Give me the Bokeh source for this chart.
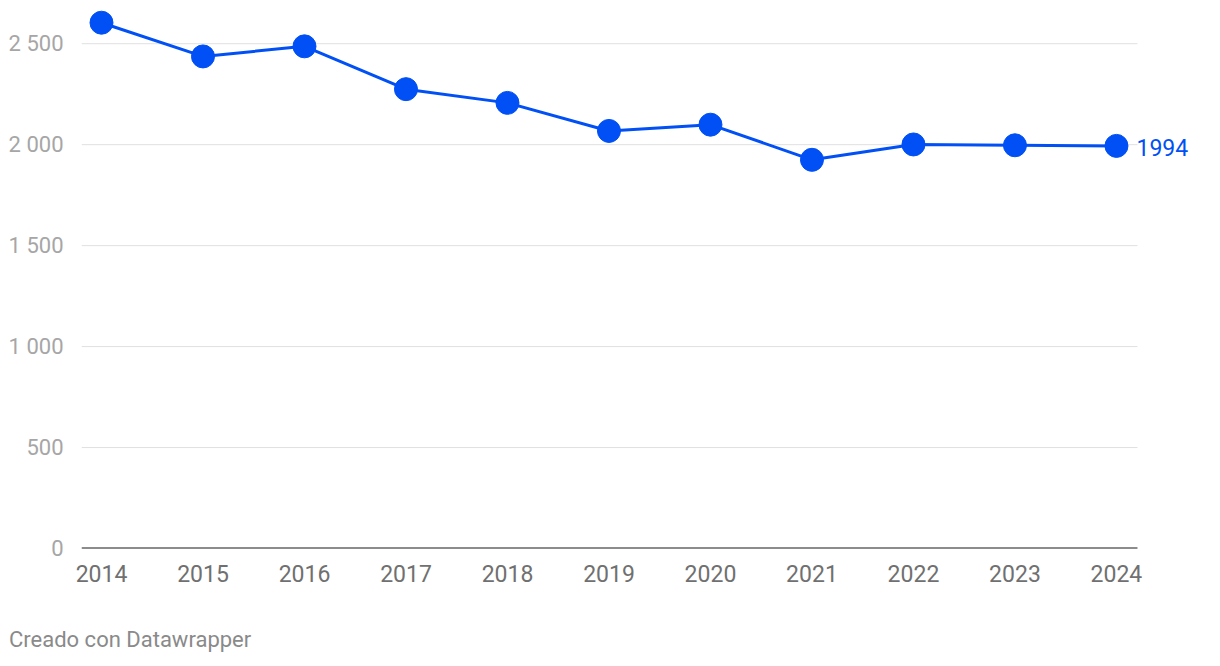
from bokeh.plotting import figure
from bokeh.models import Range1d, FixedTicker, ColumnDataSource, Div
from bokeh.layouts import column
from bokeh.core.properties import value
from bokeh.embed import file_html
from bokeh.resources import INLINE

years = [2014, 2015, 2016, 2017, 2018, 2019, 2020, 2021, 2022, 2023, 2024]
values = [2604, 2437, 2487, 2275, 2207, 2068, 2099, 1925, 2001, 1997, 1994]
y_ticks = [0, 500, 1000, 1500, 2000, 2500]
y_tick_labels = ["0", "500", "1 000", "1 500", "2 000", "2 500"]
end_label = ["1994"]
footer_text = "Creado con Datawrapper"

BLUE = "#0050f5"
FONT = "Roboto"

X_START, X_END = 2013.803, 2024.828   # frame extends right to leave room for the end label
GRID_END = 2024.207                   # where grid lines / baseline stop

p = figure(width=1212, height=596, output_backend="svg", toolbar_location=None,
           x_range=Range1d(X_START, X_END), y_range=Range1d(0, 2714),
           min_border_left=81, min_border_right=12, min_border_top=0, min_border_bottom=48)
p.outline_line_color = None
p.background_fill_color = "white"
p.border_fill_color = "white"

p.xgrid.grid_line_color = None
p.ygrid.grid_line_color = None
p.yaxis.ticker = FixedTicker(ticks=y_ticks)
p.xaxis.ticker = FixedTicker(ticks=years)
p.yaxis.major_label_overrides = {t: l for t, l in zip(y_ticks, y_tick_labels)}

# y axis
p.yaxis.axis_line_color = None
p.yaxis.major_tick_line_color = None
p.yaxis.minor_tick_line_color = None
p.yaxis.major_label_text_font = FONT
p.yaxis.major_label_text_font_size = "22px"
p.yaxis.major_label_text_color = "#a6a6a6"
p.yaxis.major_label_standoff = 12

# x axis
p.xaxis.axis_line_color = None
p.xaxis.major_tick_line_color = None
p.xaxis.minor_tick_line_color = None
p.xaxis.major_label_text_font = FONT
p.xaxis.major_label_text_font_size = "23px"
p.xaxis.major_label_text_color = "#707070"
p.xaxis.major_label_standoff = 10

# horizontal grid lines (stop at the last category) and black baseline
grid_y = y_ticks[1:]
p.segment(x0=[X_START] * len(grid_y), x1=[GRID_END] * len(grid_y), y0=grid_y, y1=grid_y,
          line_color="#e0e0e0", line_width=1)
p.segment(x0=[X_START], x1=[GRID_END], y0=[0], y1=[0], line_color="#1a1a1a", line_width=2)

src = ColumnDataSource(dict(x=years, y=values))
p.line("x", "y", source=src, line_color=BLUE, line_width=3)
p.scatter("x", "y", source=src, size=23, fill_color=BLUE, line_color=BLUE)

p.text(x=[years[-1]], y=[values[-1]], text=end_label, x_offset=20, y_offset=2,
       text_font=value(FONT), text_font_size="23px", text_color=BLUE,
       text_align="left", text_baseline="middle")

footer = Div(text=footer_text, width=400, height=26, margin=(31, 0, 0, 9),
             styles={"font-family": FONT, "font-size": "22px", "color": "#8a8a8a",
                     "line-height": "26px", "white-space": "nowrap"})

layout = column(p, footer, spacing=0)
open("out.html", "w").write(file_html(layout, INLINE))
